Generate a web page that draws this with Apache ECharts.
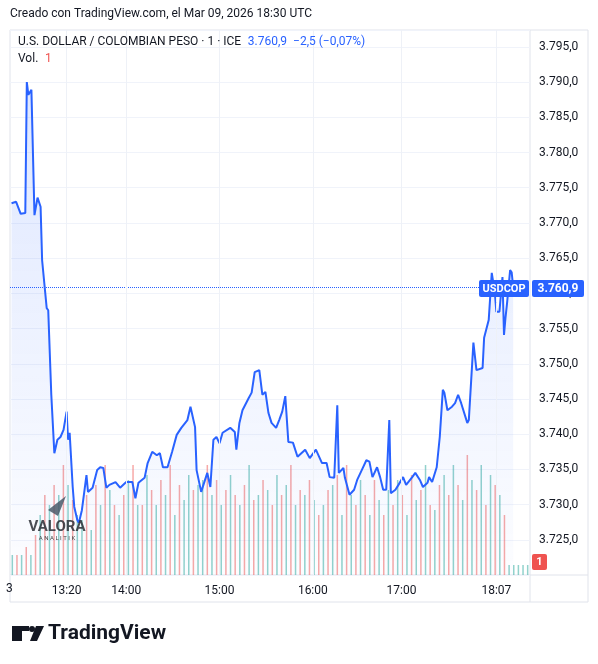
<!DOCTYPE html>
<html>
<head>
<meta charset="utf-8">
<script src="https://cdn.jsdelivr.net/npm/echarts@6/dist/echarts.min.js"></script>
<style>html,body{margin:0;padding:0;background:#fff}#c{width:598px;height:664px}</style>
</head>
<body>
<div id="c"></div>
<script>
// bar index (TradingView 1-min bars, gaps removed) and price
var barIdx = [1,4,7,10,11,12,14,16,18,20,21,24,25,27,29,31,33,35,37,38,39,41,42,44,45,47,50,51,54,57,59,61,63,65,69,72,76,80,82,84,88,90,93,96,98,100,103,106,109,112,116,118,121,122,125,129,131,133,135,137,139,144,147,148,150,152,156,158,160,163,165,167,169,171,174,176,178,180,182,185,188,193,196,200,204,207,209,212,214,215,218,219,222,225,227,230,233,235,237,240,242,244,246,248,249,252,254,257,259,263,265,268,270,273,274,276,279,281,282,283,284,286,289,291,293,295,299,300,303,305,309,310,313,315,317,318,320,322,323,324,325,327,328,329];
var prices = [3772.8,3773.0,3771.3,3771.4,3790.0,3788.2,3788.9,3771.1,3773.6,3772.3,3764.7,3757.9,3757.6,3745.6,3737.3,3739.2,3739.6,3740.6,3743.2,3739.2,3740.2,3732.5,3729.7,3727.8,3727.4,3729.2,3734.2,3731.8,3732.4,3734.9,3735.3,3735.2,3732.4,3732.8,3733.2,3732.4,3733.2,3733.2,3730.9,3733.1,3733.8,3735.9,3737.5,3737.0,3737.3,3735.3,3735.3,3737.5,3739.9,3740.9,3742.0,3743.9,3741.0,3734.9,3731.8,3734.5,3732.5,3739.2,3739.6,3738.7,3740.2,3740.9,3740.3,3737.8,3741.6,3743.4,3745.1,3745.9,3748.8,3749.1,3745.6,3746.0,3743.0,3741.6,3740.9,3742.0,3743.2,3745.4,3738.9,3738.8,3736.8,3737.8,3736.6,3737.8,3735.9,3735.9,3733.9,3733.8,3744.1,3734.5,3735.2,3733.8,3731.4,3732.1,3733.5,3734.9,3736.3,3736.1,3733.9,3735.3,3733.9,3732.1,3732.1,3742.0,3731.6,3732.1,3732.8,3733.9,3732.8,3733.9,3734.5,3733.5,3732.5,3733.1,3733.9,3733.2,3735.3,3739.6,3739.6,3746.3,3745.9,3743.4,3743.9,3744.4,3745.6,3744.4,3741.6,3742.0,3753.0,3749.1,3749.4,3753.7,3756.2,3762.9,3760.1,3757.4,3757.4,3762.3,3754.1,3756.6,3758.6,3763.3,3763.0,3760.9];
// time labels at bar index
var tickIdx = [37,76,137,198,256,318];
var tickText = ['13:20','14:00','15:00','16:00','17:00','18:07'];
// volume (negative = down bar)
var volumes = [20,-20,20,-28,20,
  -40,60,-80,70,-90,80,-110,90,-75,60,
  55,-80,45,-90,70,-110,85,-70,60,-80,95,-110,70,
  -70,100,-85,70,-95,80,-110,60,-90,75,100,-85,90,
  95,-110,80,-95,70,-85,100,-80,70,-90,110,-75,80,
  -95,85,-70,100,-80,90,-110,70,-85,80,-95,75,-60,
  70,-85,90,-100,60,-110,80,-70,95,-80,60,-95,75,
  -60,85,-70,95,-80,60,-100,75,-85,110,-70,65,-90,
  100,-80,110,-90,75,-120,95,-85,110,-70,100,-90,80,
  -60,10,10,10,10,10];
var lastPrice = 3760.9;

var chart = echarts.init(document.getElementById('c'));
var fmt = function (v) {
  var s = v.toFixed(1).split('.');
  return s[0].replace(/\B(?=(\d{3})+(?!\d))/g, '.') + ',' + s[1];
};
var lineData = barIdx.map(function (b, i) { return [b, prices[i]]; });
var volData = volumes.map(function (v) {
  return { value: Math.abs(v), itemStyle: { color: v < 0 ? 'rgba(239,83,80,0.5)' : 'rgba(38,166,154,0.5)' } };
});

chart.setOption({
  animation: false,
  textStyle: { fontFamily: 'Roboto, sans-serif' },
  grid: [
    { left: 10, right: 68, top: 30, bottom: 89 },
    { left: 10, right: 68, top: 30, bottom: 89 }
  ],
  xAxis: [
    { type: 'value', gridIndex: 0, min: 0, max: 340,
      axisLine: { show: false }, axisTick: { show: false },
      splitLine: { show: false },
      axisLabel: { show: true, customValues: tickIdx, color: '#131722', fontSize: 12, margin: 10,
        formatter: function (v) { return tickText[tickIdx.indexOf(v)] || ''; } } },
    { type: 'category', gridIndex: 1, data: volumes.map(function (v, i) { return i; }), show: false }
  ],
  yAxis: [
    { type: 'value', gridIndex: 0, position: 'right', min: 3720, max: 3797.4, interval: 5,
      axisLine: { show: false }, axisTick: { show: false },
      splitLine: { lineStyle: { color: '#f0f3fa' } },
      axisLabel: { color: '#131722', fontSize: 12, margin: 9, formatter: function (v) { return v > 3797 || v < 3721 ? '' : fmt(v); } } },
    { type: 'value', gridIndex: 1, min: 0, max: 545, show: false }
  ],
  series: [
    { type: 'bar', xAxisIndex: 1, yAxisIndex: 1, data: volData, barWidth: 1.5, z: 1 },
    { type: 'line', xAxisIndex: 0, yAxisIndex: 0, data: lineData, showSymbol: false, z: 3,
      lineStyle: { color: '#2962ff', width: 2 },
      areaStyle: { origin: 'start', color: new echarts.graphic.LinearGradient(0, 0, 0, 1, [
        { offset: 0, color: 'rgba(41,98,255,0.22)' }, { offset: 1, color: 'rgba(41,98,255,0.02)' }]) },
      markLine: { symbol: 'none', silent: true, label: { show: false },
        lineStyle: { color: '#2962ff', type: 'dotted', width: 1 },
        data: [{ yAxis: lastPrice }] } },
    // vertical grid lines at time labels
    { type: 'line', xAxisIndex: 0, yAxisIndex: 0, data: [], z: 0,
      markLine: { symbol: 'none', silent: true, label: { show: false },
        lineStyle: { color: '#eef1f7', type: 'solid', width: 1 },
        data: tickIdx.map(function (t) { return { xAxis: t }; }) } }
  ],
  graphic: { elements: [
    { type: 'text', left: 10, top: 8, style: { text: 'Creado con TradingView.com, el Mar 09, 2026 18:30 UTC', fill: '#131722', font: '12px Roboto' } },
    { type: 'rect', shape: { x: 10, y: 30, width: 578, height: 572 }, style: { fill: 'none', stroke: '#e0e3eb', lineWidth: 1 } },
    { type: 'line', shape: { x1: 10, y1: 575, x2: 588, y2: 575 }, style: { stroke: '#e0e3eb' } },
    { type: 'line', shape: { x1: 530, y1: 30, x2: 530, y2: 602 }, style: { stroke: '#e0e3eb' } },
    { type: 'text', left: 18, top: 36, z: 100, style: { rich: {
        a: { fill: '#131722', font: '12px Roboto' }, b: { fill: '#2962ff', font: '12px Roboto' } },
        text: '{a|U.S. DOLLAR / COLOMBIAN PESO · 1 · ICE}  {b|3.760,9  −2,5 (−0,07%)}' } },
    { type: 'text', left: 18, top: 53, z: 100, style: { rich: {
        a: { fill: '#131722', font: '12px Roboto' }, r: { fill: '#ef5350', font: '12px Roboto' } },
        text: '{a|Vol.}  {r|1}' } },
    { type: 'rect', z: 100, shape: { x: 479, y: 280, width: 50, height: 17, r: 2 }, style: { fill: '#2962ff' } },
    { type: 'text', z: 101, x: 504, y: 289, style: { text: 'USDCOP', fill: '#fff', font: 'bold 11px Roboto', align: 'center', verticalAlign: 'middle' } },
    { type: 'rect', z: 100, shape: { x: 532, y: 280, width: 52, height: 17, r: 2 }, style: { fill: '#2962ff' } },
    { type: 'text', z: 101, x: 558, y: 289, style: { text: '3.760,9', fill: '#fff', font: 'bold 12px Roboto', align: 'center', verticalAlign: 'middle' } },
    { type: 'rect', z: 100, shape: { x: 532, y: 554, width: 15, height: 16, r: 2 }, style: { fill: '#ef5350' } },
    { type: 'text', z: 101, x: 539.5, y: 562, style: { text: '1', fill: '#fff', font: 'bold 11px Roboto', align: 'center', verticalAlign: 'middle' } },
    { type: 'text', x: 6, y: 589, style: { text: '3', fill: '#131722', font: '12px Roboto', verticalAlign: 'middle' } },
    { type: 'polygon', z: 100, shape: { points: [[48, 510], [66, 496], [58, 516]] }, style: { fill: '#4a5a6a', opacity: 0.85 } },
    { type: 'text', z: 100, x: 57, y: 527, style: { text: 'VALORA', fill: '#2b2f36', font: 'bold 15px Roboto', align: 'center', verticalAlign: 'middle', opacity: 0.85 } },
    { type: 'text', z: 100, x: 57, y: 538, style: { text: 'A N A L I T I K', fill: '#444', font: '6px Roboto', align: 'center', verticalAlign: 'middle' } },
    { type: 'rect', shape: { x: 12, y: 626, width: 10, height: 15 }, style: { fill: '#131722' } },
    { type: 'rect', shape: { x: 12, y: 626, width: 17, height: 5 }, style: { fill: '#131722' } },
    { type: 'circle', shape: { cx: 32, cy: 629, r: 3 }, style: { fill: '#131722' } },
    { type: 'polygon', shape: { points: [[36, 626], [44, 626], [37, 641], [30, 641]] }, style: { fill: '#131722' } },
    { type: 'text', x: 48, y: 634, style: { text: 'TradingView', fill: '#131722', font: 'bold 21px Roboto', verticalAlign: 'middle' } }
  ] }
});
</script>
</body>
</html>
